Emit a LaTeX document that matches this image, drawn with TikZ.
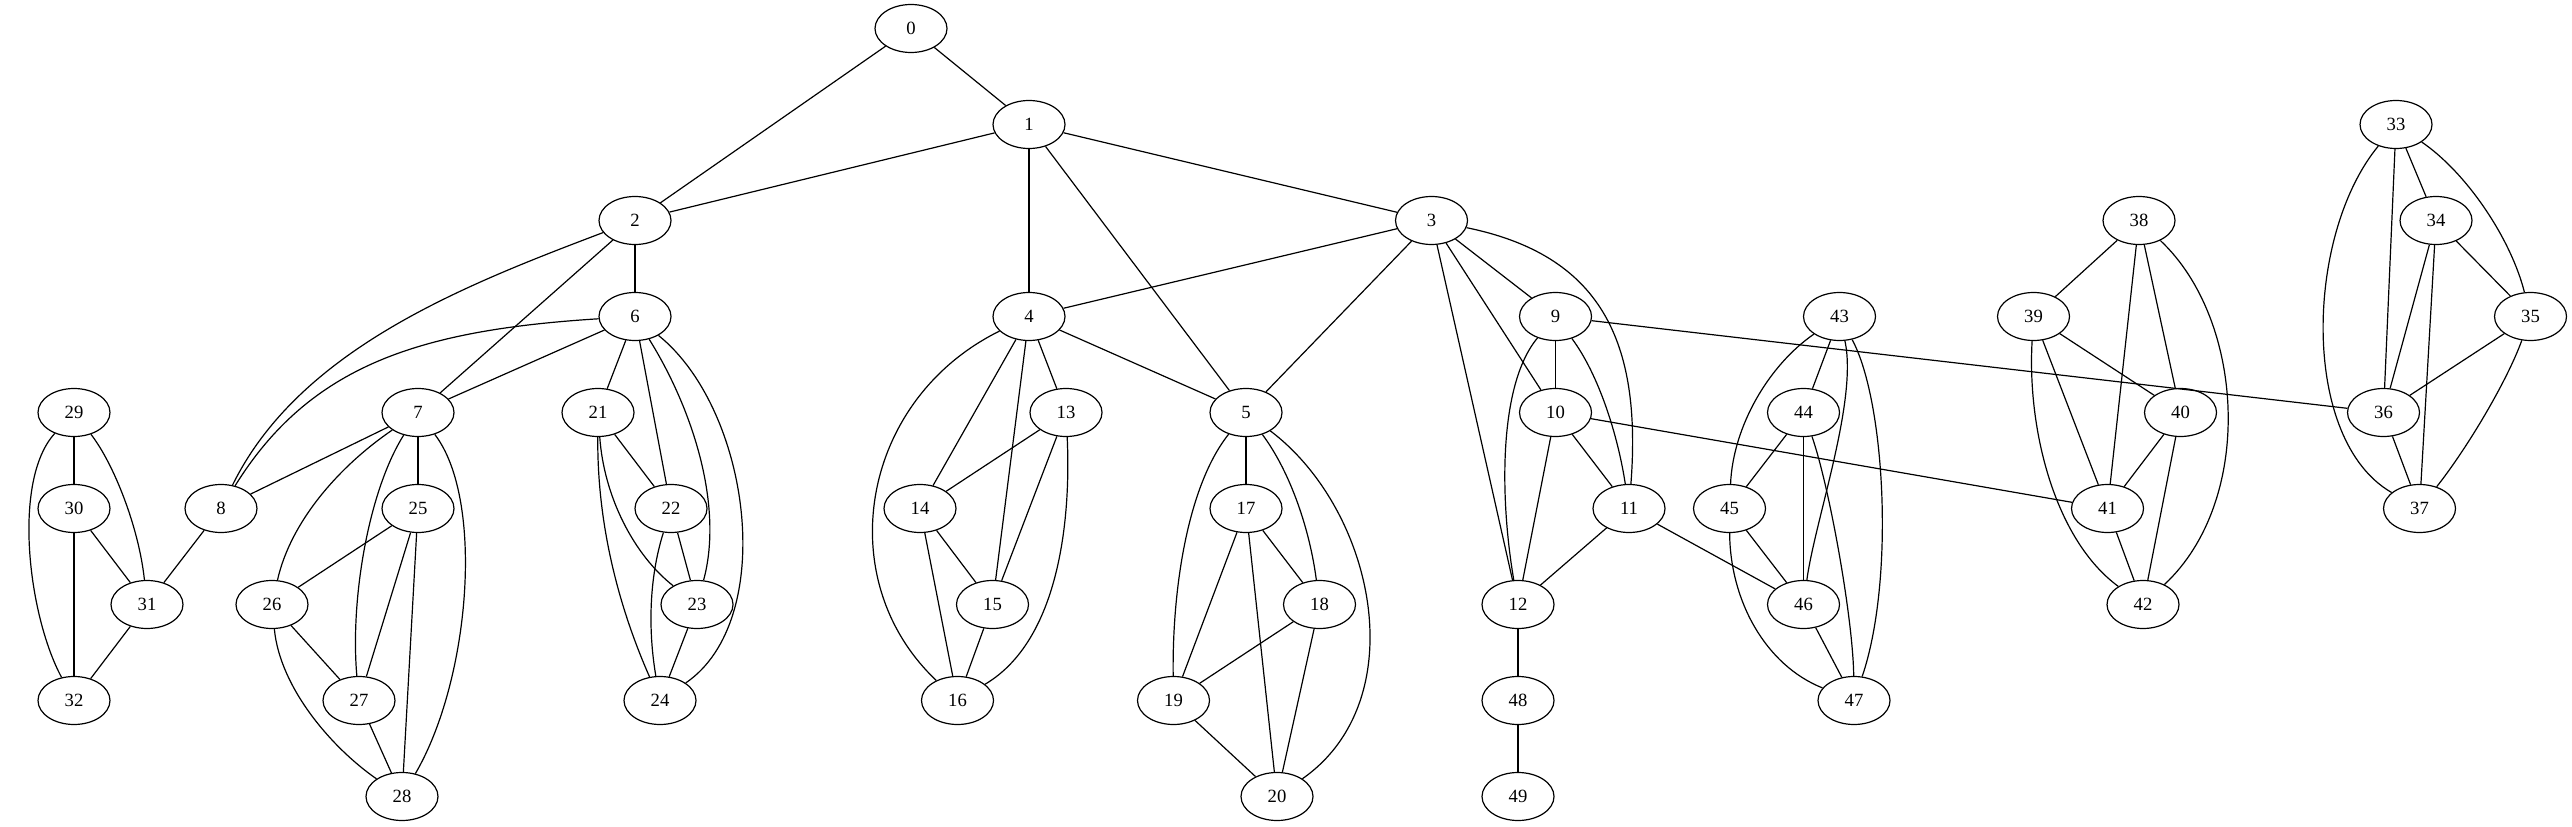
\documentclass[tikz,border=0pt]{standalone}
\usepackage{fontspec}
\setmainfont{Liberation Serif}
\usetikzlibrary{shapes.geometric}
\begin{document}
\begin{tikzpicture}[x=0.75pt,y=-0.75pt,
  gnode/.style={draw,ellipse,minimum width=54pt,minimum height=36pt,inner sep=0pt,line width=0.9pt,font=\fontsize{14}{16}\selectfont},
  link/.style={line width=0.9pt}]
\useasboundingbox (0,0) rectangle (2572,827);
\node[gnode] (n0) at (911,28.5) {0};
\node[gnode] (n1) at (1029,124.5) {1};
\node[gnode] (n2) at (635,220.5) {2};
\node[gnode] (n3) at (1431.5,220.5) {3};
\node[gnode] (n4) at (1029,316.5) {4};
\node[gnode] (n5) at (1246,412.5) {5};
\node[gnode] (n6) at (635,316.5) {6};
\node[gnode] (n7) at (418,412.5) {7};
\node[gnode] (n8) at (221,508.5) {8};
\node[gnode] (n9) at (1555.5,316.5) {9};
\node[gnode] (n10) at (1555.5,412.5) {10};
\node[gnode] (n11) at (1629,508.5) {11};
\node[gnode] (n12) at (1518,604.5) {12};
\node[gnode] (n13) at (1066,412.5) {13};
\node[gnode] (n14) at (920,508.5) {14};
\node[gnode] (n15) at (992.5,604.5) {15};
\node[gnode] (n16) at (957.5,700.5) {16};
\node[gnode] (n17) at (1246,508.5) {17};
\node[gnode] (n18) at (1319.5,604.5) {18};
\node[gnode] (n19) at (1173.5,700.5) {19};
\node[gnode] (n20) at (1277,796.5) {20};
\node[gnode] (n21) at (598,412.5) {21};
\node[gnode] (n22) at (671,508.5) {22};
\node[gnode] (n23) at (697,604.5) {23};
\node[gnode] (n24) at (660,700.5) {24};
\node[gnode] (n25) at (418,508.5) {25};
\node[gnode] (n26) at (272,604.5) {26};
\node[gnode] (n27) at (359,700.5) {27};
\node[gnode] (n28) at (402,796.5) {28};
\node[gnode] (n29) at (74,412.5) {29};
\node[gnode] (n30) at (74,508.5) {30};
\node[gnode] (n31) at (147,604.5) {31};
\node[gnode] (n32) at (74,700.5) {32};
\node[gnode] (n33) at (2396,124.5) {33};
\node[gnode] (n34) at (2436,220.5) {34};
\node[gnode] (n35) at (2530.5,316.5) {35};
\node[gnode] (n36) at (2383.5,412.5) {36};
\node[gnode] (n37) at (2419.5,508.5) {37};
\node[gnode] (n38) at (2139,220.5) {38};
\node[gnode] (n39) at (2033.5,316.5) {39};
\node[gnode] (n40) at (2180.5,412.5) {40};
\node[gnode] (n41) at (2107.5,508.5) {41};
\node[gnode] (n42) at (2143,604.5) {42};
\node[gnode] (n43) at (1839.5,316.5) {43};
\node[gnode] (n44) at (1803.5,412.5) {44};
\node[gnode] (n45) at (1729.5,508.5) {45};
\node[gnode] (n46) at (1803.5,604.5) {46};
\node[gnode] (n47) at (1854,700.5) {47};
\node[gnode] (n48) at (1518,700.5) {48};
\node[gnode] (n49) at (1518,796.5) {49};
% straight edges
\foreach \a/\b in {0/1,0/2,1/2,1/3,1/4,1/5,2/6,2/7,3/4,3/5,3/9,3/10,3/12,4/5,4/13,4/14,4/15,
  6/7,6/21,6/22,7/8,7/25,8/31,9/10,9/36,10/11,10/12,10/41,11/12,11/46,12/48,48/49,
  13/14,13/15,14/15,14/16,15/16,5/17,17/18,17/19,17/20,18/19,18/20,19/20,
  21/22,22/23,23/24,25/26,25/27,25/28,26/27,27/28,29/30,30/31,30/32,31/32,
  33/34,33/36,34/35,34/36,34/37,35/36,36/37,38/39,38/40,38/41,39/40,39/41,40/41,40/42,41/42,
  43/44,44/45,44/46,45/46,46/47}
  \draw[link] (n\a) -- (n\b);
% curved edges
\draw[link] (n2) .. controls (462,286) and (299,350) .. (n8);
\draw[link] (n6) .. controls (420,330) and (310,365) .. (n8);
\draw[link] (n6) .. controls (692,408) and (724,505) .. (n23);
\draw[link] (n6) .. controls (751,410) and (778,620) .. (n24);
\draw[link] (n21) .. controls (604,497) and (634,555) .. (n23);
\draw[link] (n21) .. controls (597,527) and (620,610) .. (n24);
\draw[link] (n22) .. controls (649,578) and (648,630) .. (n24);
\draw[link] (n7) .. controls (341,465) and (291,520) .. (n26);
\draw[link] (n7) .. controls (369,490) and (350,598) .. (n27);
\draw[link] (n7) .. controls (485,500) and (470,680) .. (n28);
\draw[link] (n26) .. controls (280,688) and (332,748) .. (n28);
\draw[link] (n29) .. controls (114,464) and (139,528) .. (n31);
\draw[link] (n29) .. controls (12,480) and (28,615) .. (n32);
\draw[link] (n3) .. controls (1600,255) and (1642,340) .. (n11);
\draw[link] (n4) .. controls (860,400) and (830,580) .. (n16);
\draw[link] (n13) .. controls (1071,517) and (1060,640) .. (n16);
\draw[link] (n5) .. controls (1291,473) and (1310,531) .. (n18);
\draw[link] (n5) .. controls (1188,485) and (1172,588) .. (n19);
\draw[link] (n5) .. controls (1375,510) and (1415,700) .. (n20);
\draw[link] (n9) .. controls (1599,375) and (1618,436) .. (n11);
\draw[link] (n9) .. controls (1498,385) and (1500,500) .. (n12);
\draw[link] (n43) .. controls (1769,365) and (1733,426) .. (n45);
\draw[link] (n43) .. controls (1858,400) and (1815,520) .. (n46);
\draw[link] (n43) .. controls (1885,400) and (1895,580) .. (n47);
\draw[link] (n44) .. controls (1829,485) and (1853,618) .. (n47);
\draw[link] (n45) .. controls (1730,600) and (1765,665) .. (n47);
\draw[link] (n38) .. controls (2245,320) and (2255,500) .. (n42);
\draw[link] (n39) .. controls (2027,430) and (2055,540) .. (n42);
\draw[link] (n33) .. controls (2467,173) and (2511,239) .. (n35);
\draw[link] (n33) .. controls (2305,235) and (2300,440) .. (n37);
\draw[link] (n35) .. controls (2507,381) and (2468,447) .. (n37);
\end{tikzpicture}
\end{document}
